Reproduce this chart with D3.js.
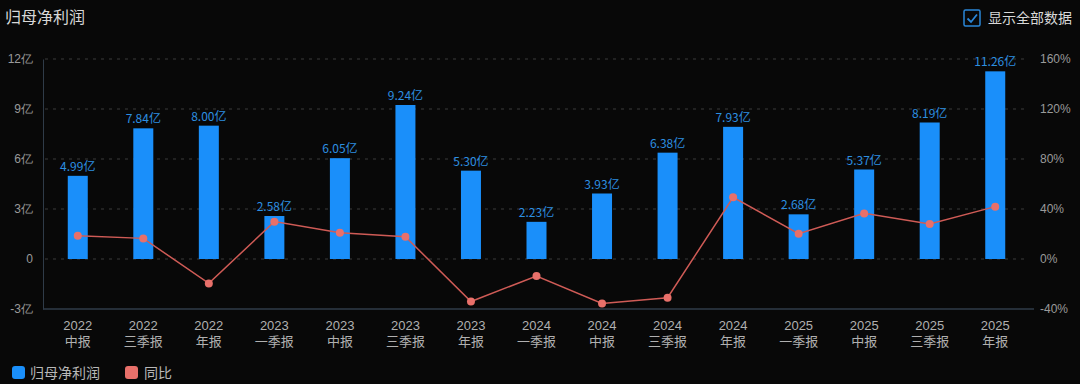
<!DOCTYPE html>
<html>
<head>
<meta charset="utf-8">
<script src="https://cdn.jsdelivr.net/npm/d3@7"></script>
<style>
  html, body { margin: 0; padding: 0; background: #080808; }
  svg { display: block; font-family: "Noto Sans CJK SC", "Noto Sans", sans-serif; }
</style>
</head>
<body>
<div id="chart"></div>
<script>
!(function () {
  'use strict';
  // data
  const years = ['2022', '2022', '2022', '2023', '2023', '2023', '2023', '2024', '2024', '2024', '2024', '2025', '2025', '2025', '2025'];
  const periods = ['中报', '三季报', '年报', '一季报', '中报', '三季报', '年报', '一季报', '中报', '三季报', '年报', '一季报', '中报', '三季报', '年报'];
  const profit = [4.99, 7.84, 8.00, 2.58, 6.05, 9.24, 5.30, 2.23, 3.93, 6.38, 7.93, 2.68, 5.37, 8.19, 11.26];
  const yoy = [18.6, 16.5, -19.5, 29.9, 21.0, 17.8, -34.0, -13.6, -35.5, -31.0, 49.4, 20.3, 36.5, 28.0, 41.9];
  const leftTicks = [-3, 0, 3, 6, 9, 12];
  const rightTicks = [-40, 0, 40, 80, 120, 160];

  const W = 1080, H = 384;
  const pad = { top: 59, right: 52, bottom: 75, left: 45 };

  const svg = d3.select('#chart').append('svg')
    .attr('width', W).attr('height', H);

  svg.append('rect').attr('width', W).attr('height', H).attr('fill', '#080808');

  const keys = d3.range(profit.length);
  const x = d3.scaleBand().domain(keys).range([pad.left, W - pad.right]);
  const yL = d3.scaleLinear().domain([-3, 12]).range([H - pad.bottom, pad.top]);
  const yR = d3.scaleLinear().domain([-40, 160]).range([H - pad.bottom, pad.top]);

  // grid
  svg.append('g').selectAll('line').data(leftTicks.filter(d => d !== -3)).join('line')
    .attr('x1', pad.left).attr('x2', W - pad.right)
    .attr('y1', d => yL(d)).attr('y2', d => yL(d))
    .attr('stroke', '#3a3a3a').attr('stroke-dasharray', '3,5');

  // left axis
  const gl = svg.append('g').attr('transform', 'translate(' + (pad.left - 2) + ',0)')
    .call(d3.axisLeft(yL).tickValues(leftTicks).tickSize(0).tickPadding(10)
      .tickFormat(d => d === 0 ? '0' : d + '亿'));
  gl.select('.domain').attr('stroke', '#2f3b48');
  gl.selectAll('text').attr('fill', '#9a9a9a').style('font-size', '12px');

  // right axis
  const gr = svg.append('g').attr('transform', 'translate(' + (W - pad.right) + ',0)')
    .call(d3.axisRight(yR).tickValues(rightTicks).tickSize(0).tickPadding(12)
      .tickFormat(d => d + '%'));
  gr.select('.domain').remove();
  gr.selectAll('text').attr('fill', '#9a9a9a').style('font-size', '12px');

  // bottom axis
  const gb = svg.append('g').attr('transform', 'translate(0,' + (H - pad.bottom) + ')')
    .call(d3.axisBottom(x).tickSize(0).tickFormat(''));
  gb.select('.domain').attr('stroke', '#2f3b48').attr('stroke-width', 1.5)
    .attr('d', 'M' + (pad.left - 2) + ',0H' + (W - pad.right + 6));

  // two-line category labels
  const xl = svg.append('g')
    .style('font-family', '"Liberation Sans", "Noto Sans CJK SC", sans-serif');
  xl.selectAll('text.yr').data(keys).join('text').attr('class', 'yr')
    .attr('x', d => x(d) + x.bandwidth() / 2).attr('y', H - pad.bottom + 21)
    .attr('text-anchor', 'middle').attr('fill', '#b0b0b0').style('font-size', '13px')
    .text(d => years[d]);
  xl.selectAll('text.pd').data(keys).join('text').attr('class', 'pd')
    .attr('x', d => x(d) + x.bandwidth() / 2).attr('y', H - pad.bottom + 37)
    .attr('text-anchor', 'middle').attr('fill', '#b0b0b0').style('font-size', '13px')
    .text(d => periods[d]);

  // bars
  const bw = 20;
  svg.append('g').selectAll('rect').data(keys).join('rect')
    .attr('x', d => x(d) + x.bandwidth() / 2 - bw / 2)
    .attr('y', d => yL(profit[d]))
    .attr('width', bw)
    .attr('height', d => yL(0) - yL(profit[d]))
    .attr('fill', '#1a8ffa');

  svg.append('g').selectAll('text').data(keys).join('text')
    .attr('x', d => x(d) + x.bandwidth() / 2)
    .attr('y', d => yL(profit[d]) - 5)
    .attr('text-anchor', 'middle').attr('fill', '#2d8fe0').style('font-size', '12px')
    .text(d => profit[d].toFixed(2) + '亿');

  // line
  const line = d3.line().x(d => x(d) + x.bandwidth() / 2).y(d => yR(yoy[d]));
  svg.append('path').datum(keys).attr('d', line)
    .attr('fill', 'none').attr('stroke', '#cf5b56').attr('stroke-width', 1.5);
  svg.append('g').selectAll('circle').data(keys).join('circle')
    .attr('cx', d => x(d) + x.bandwidth() / 2).attr('cy', d => yR(yoy[d]))
    .attr('r', 4).attr('fill', '#e8706a');

  // title
  svg.append('text').attr('x', 5).attr('y', 23).attr('fill', '#d8d8d8')
    .style('font-size', '16px').text('归母净利润');

  // checkbox
  const cb = svg.append('g').attr('transform', 'translate(964,10)');
  cb.append('rect').attr('width', 16).attr('height', 16).attr('rx', 1.5)
    .attr('fill', 'none').attr('stroke', '#2a86d8').attr('stroke-width', 1.5);
  cb.append('path').attr('d', 'M3.5,8.5 L7,12 L13,4.5')
    .attr('fill', 'none').attr('stroke', '#2a86d8').attr('stroke-width', 1.8);
  svg.append('text').attr('x', 988).attr('y', 23).attr('fill', '#d8d8d8')
    .style('font-size', '14px').text('显示全部数据');

  // legend
  const lg = svg.append('g').attr('transform', 'translate(12,366)');
  lg.append('rect').attr('width', 13).attr('height', 13).attr('rx', 3).attr('fill', '#1a8ffa');
  lg.append('text').attr('x', 18).attr('y', 11.5).attr('fill', '#b8b8b8').style('font-size', '14px').text('归母净利润');
  lg.append('rect').attr('x', 113).attr('width', 13).attr('height', 13).attr('rx', 3).attr('fill', '#e8706a');
  lg.append('text').attr('x', 132).attr('y', 11.5).attr('fill', '#b8b8b8').style('font-size', '14px').text('同比');
}());
</script>
</body>
</html>
